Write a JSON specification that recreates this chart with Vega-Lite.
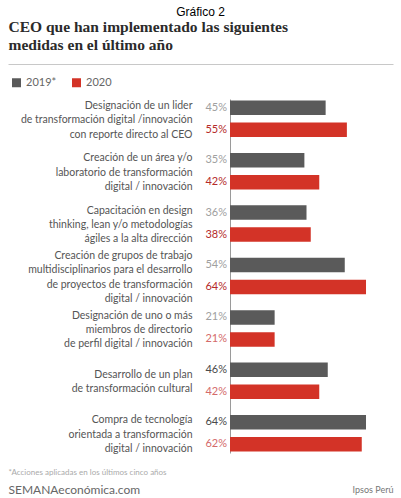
{
  "$schema": "https://vega.github.io/schema/vega-lite/v6.json",
  "width": 385,
  "height": 354,
  "autosize": "none",
  "padding": {"left": 8, "top": 99, "right": 8, "bottom": 45},
  "background": "white",
  "title": {
    "text": "Gráfico 2",
    "anchor": "middle",
    "frame": "group",
    "font": "Liberation Sans",
    "fontSize": 12,
    "fontWeight": "normal",
    "color": "#000000",
    "offset": 0
  },
  "config": {"view": {"stroke": null}, "font": "Lato"},
  "data": {
    "values": [
      {"medida": "Designación de un lider|de transformación digital /innovación|con reporte directo al CEO", "anio": "2019", "valor": 45},
      {"medida": "Designación de un lider|de transformación digital /innovación|con reporte directo al CEO", "anio": "2020", "valor": 55},
      {"medida": "Creación de un área y/o|laboratorio de transformación|digital / innovación", "anio": "2019", "valor": 35},
      {"medida": "Creación de un área y/o|laboratorio de transformación|digital / innovación", "anio": "2020", "valor": 42},
      {"medida": "Capacitación en design|thinking, lean y/o metodologías|ágiles a la alta dirección", "anio": "2019", "valor": 36},
      {"medida": "Capacitación en design|thinking, lean y/o metodologías|ágiles a la alta dirección", "anio": "2020", "valor": 38},
      {"medida": "Creación de grupos de trabajo|multidisciplinarios para el desarrollo|de proyectos de transformación|digital / innovación", "anio": "2019", "valor": 54},
      {"medida": "Creación de grupos de trabajo|multidisciplinarios para el desarrollo|de proyectos de transformación|digital / innovación", "anio": "2020", "valor": 64},
      {"medida": "Designación de uno o más|miembros de directorio|de perfil digital / innovación", "anio": "2019", "valor": 21},
      {"medida": "Designación de uno o más|miembros de directorio|de perfil digital / innovación", "anio": "2020", "valor": 21},
      {"medida": "Desarrollo de un plan|de transformación cultural", "anio": "2019", "valor": 46},
      {"medida": "Desarrollo de un plan|de transformación cultural", "anio": "2020", "valor": 42},
      {"medida": "Compra de tecnología|orientada a transformación|digital / innovación", "anio": "2019", "valor": 64},
      {"medida": "Compra de tecnología|orientada a transformación|digital / innovación", "anio": "2020", "valor": 62}
    ]
  },
  "layer": [
    {
      "mark": {"type": "bar"},
      "encoding": {
        "y": {
          "field": "medida",
          "type": "nominal",
          "sort": null,
          "scale": {"paddingInner": 0.244, "paddingOuter": 0},
          "axis": {
            "orient": "left",
            "offset": -222,
            "domainColor": "#9a9a9a",
            "domainWidth": 1,
            "ticks": false,
            "grid": false,
            "labelPadding": 38,
            "labelExpr": "split(datum.label, '|')",
            "labelOffset": {"expr": "1.5 - (length(split(datum.value, '|')) - 1) * 7.15"},
            "labelFont": "Lato",
            "labelFontSize": 10.5,
            "labelColor": "#555555",
            "labelLineHeight": 14.3,
            "labelAlign": "right",
            "labelBaseline": "middle",
            "labelLimit": 0,
            "labelOverlap": false,
            "title": "SEMANAeconómica.com",
            "titleAngle": 0,
            "titleX": -222,
            "titleY": 394,
            "titleAlign": "left",
            "titleBaseline": "alphabetic",
            "titleFont": "Lato",
            "titleFontSize": 12,
            "titleFontWeight": "normal",
            "titleColor": "#666666"
          }
        },
        "yOffset": {
          "field": "anio",
          "type": "nominal",
          "scale": {"paddingInner": 0.34, "paddingOuter": 0.07}
        },
        "x": {
          "field": "valor",
          "type": "quantitative",
          "scale": {"domain": [-104.47, 76.7], "nice": false, "zero": false},
          "axis": {
            "orient": "top",
            "offset": 35,
            "domainColor": "#c8c8c8",
            "labels": false,
            "ticks": false,
            "grid": false,
            "title": ["CEO que han implementado las siguientes", "medidas en el último año"],
            "titleX": 0,
            "titleY": -33,
            "titleAlign": "left",
            "titleAnchor": "start",
            "titleBaseline": "alphabetic",
            "titleFont": "Liberation Serif",
            "titleFontSize": 15.5,
            "titleFontWeight": "bold",
            "titleColor": "#2b2b2b",
            "titleLineHeight": 18
          }
        },
        "x2": {"datum": 0},
        "color": {
          "field": "anio",
          "type": "nominal",
          "scale": {"domain": ["2019", "2020"], "range": ["#5a5a5a", "#d33327"]},
          "legend": {
            "orient": "none",
            "legendX": 3,
            "legendY": -22,
            "direction": "horizontal",
            "title": null,
            "symbolType": "square",
            "symbolSize": 81,
            "symbolStrokeWidth": 0,
            "labelFont": "Lato",
            "labelFontSize": 11,
            "labelColor": "#666666",
            "labelExpr": "datum.label == '2019' ? '2019*' : datum.label",
            "columnPadding": 14,
            "labelOffset": 4,
            "padding": 0
          }
        }
      }
    },
    {
      "transform": [
        {"joinaggregate": [{"op": "max", "field": "valor", "as": "maxv"}, {"op": "min", "field": "valor", "as": "minv"}], "groupby": ["medida"]},
        {"calculate": "datum.valor == datum.maxv && datum.maxv != datum.minv", "as": "destacado"},
        {"calculate": "datum.valor + '%'", "as": "etiqueta"}
      ],
      "mark": {"type": "text", "align": "right", "baseline": "middle", "dx": -3, "font": "Lato", "fontSize": 11},
      "encoding": {
        "y": {
          "field": "medida",
          "type": "nominal",
          "sort": null,
          "axis": {
            "orient": "right",
            "domain": false,
            "labels": false,
            "ticks": false,
            "grid": false,
            "title": "Ipsos Perú",
            "titleAngle": 0,
            "titleX": 0,
            "titleY": 393,
            "titleAlign": "right",
            "titleBaseline": "alphabetic",
            "titleFont": "Lato",
            "titleFontSize": 9,
            "titleFontWeight": "normal",
            "titleColor": "#777777"
          }
        },
        "yOffset": {"field": "anio", "type": "nominal"},
        "x": {
          "datum": 0,
          "type": "quantitative",
          "axis": {
            "orient": "bottom",
            "domain": false,
            "labels": false,
            "ticks": false,
            "grid": false,
            "title": "*Acciones aplicadas en los últimos cinco años",
            "titleX": 0,
            "titleY": 21,
            "titleAlign": "left",
            "titleAnchor": "start",
            "titleBaseline": "alphabetic",
            "titleFont": "Lato",
            "titleFontSize": 8,
            "titleFontWeight": "normal",
            "titleColor": "#aaaaaa"
          }
        },
        "text": {"field": "etiqueta", "type": "nominal"},
        "color": {
          "condition": [
            {"test": "datum.anio == '2019' && datum.destacado", "value": "#4a4a4a"},
            {"test": "datum.anio == '2019'", "value": "#a0a0a0"},
            {"test": "datum.destacado", "value": "#b52a2a"}
          ],
          "value": "#d46a6a"
        },
        "fontWeight": {"condition": {"test": "datum.destacado", "value": "bold"}, "value": "normal"}
      }
    }
  ],
  "resolve": {"axis": {"x": "independent", "y": "independent"}}
}
